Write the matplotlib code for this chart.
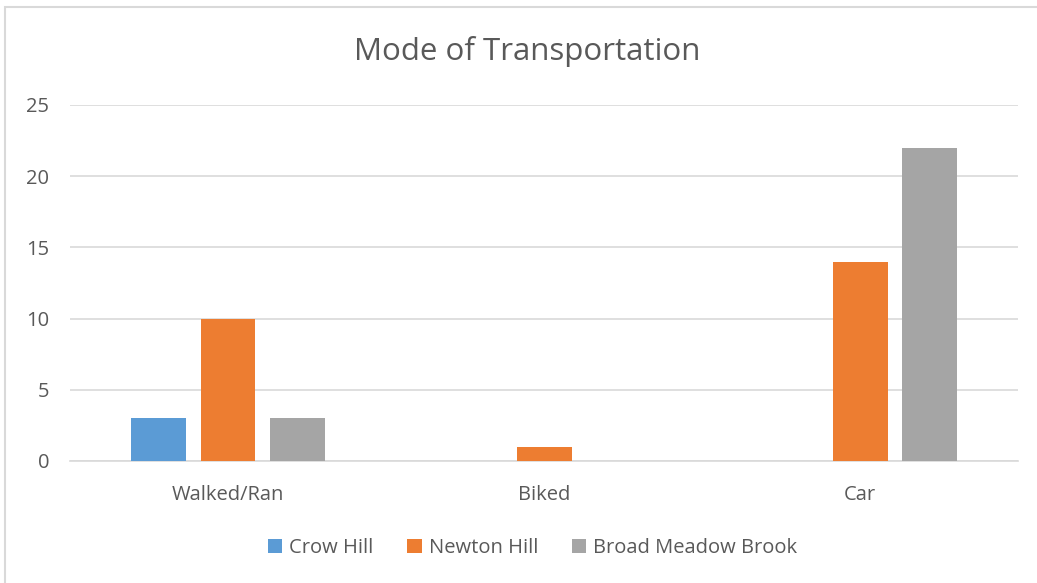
import numpy as np
import matplotlib.pyplot as plt
from matplotlib.patches import Rectangle

categories = ["Walked/Ran", "Biked", "Car"]
series_names = ["Crow Hill", "Newton Hill", "Broad Meadow Brook"]
crow_hill = [3, 0, 0]
newton_hill = [10, 1, 14]
broad_meadow = [3, 0, 22]
colors = ["#5B9BD5", "#ED7D31", "#A5A5A5"]

plt.rcParams['font.family'] = ['Open Sans', 'DejaVu Sans']

fig = plt.figure(figsize=(10.37, 5.83), dpi=100)
ax = fig.add_axes([0.0675, 0.2093, 0.9142, 0.6106])

# outer chart border (only top/left edges fall inside the canvas)
fig.patches.append(Rectangle((5 / 1037, -0.1), 1.2, (583 - 7) / 583 + 0.1,
                             transform=fig.transFigure, fill=False,
                             edgecolor="#D9D9D9", linewidth=1.5))

x = np.arange(len(categories))
width = 0.174
step = 0.221
for i, (name, vals) in enumerate(zip(series_names, [crow_hill, newton_hill, broad_meadow])):
    ax.bar(x + (i - 1) * step, vals, width, color=colors[i], label=name, zorder=3)

ax.set_xlim(-0.5, 2.5)
ax.set_ylim(0, 25)
ax.set_yticks(range(0, 26, 5))
ax.set_xticks(x)
ax.set_xticklabels(categories)
ax.grid(axis="y", color="#D9D9D9", linewidth=1.2, zorder=0)
for side in ["top", "right", "left"]:
    ax.spines[side].set_visible(False)
ax.spines["bottom"].set_color("#D9D9D9")
ax.spines["bottom"].set_linewidth(1.2)
ax.tick_params(length=0, labelsize=14.5, colors="#595959")
ax.tick_params(axis="y", pad=15)
ax.tick_params(axis="x", pad=17)

fig.text(0.508, 0.912, "Mode of Transportation", ha="center", va="center",
         fontsize=22.5, color="#595959")

leg = ax.legend(loc="upper center", bbox_to_anchor=(0.488, -0.165), ncol=3,
                frameon=False, fontsize=14.5, handlelength=0.7, handleheight=0.7,
                handletextpad=0.35, columnspacing=1.7)
for t in leg.get_texts():
    t.set_color("#595959")

fig.savefig("out.png", dpi=100)
